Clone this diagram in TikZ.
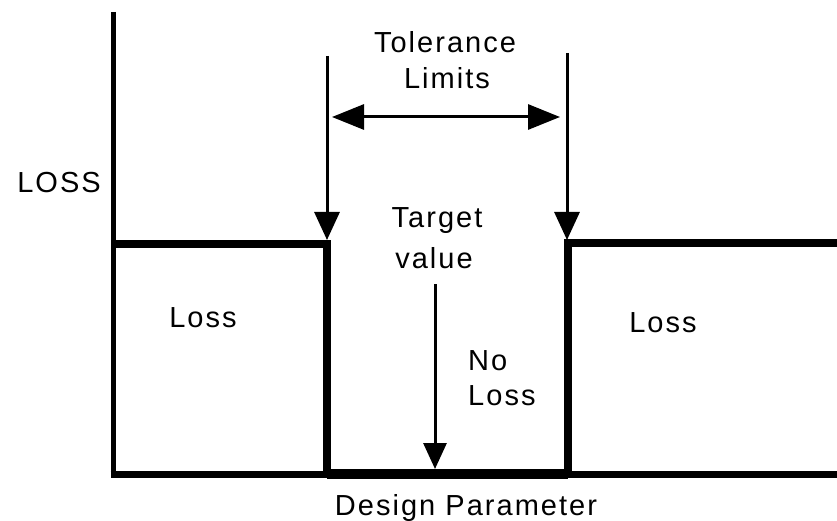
\documentclass[tikz,border=0pt]{standalone}
\usepackage{fontspec}
\newfontfamily\lblfont[LetterSpace=7]{Liberation Sans}
\usetikzlibrary{arrows.meta}
\begin{document}
\begin{tikzpicture}[x=1pt,y=-1pt,
  lbl/.style={inner sep=0pt,anchor=base,font=\lblfont\fontsize{29}{36}\selectfont},
  axisline/.style={line width=5pt},
  stepline/.style={line width=8pt,line join=miter},
  pointer/.style={line width=3pt,-{Triangle[length=28pt,width=25pt]}},
  span/.style={line width=3pt,{Triangle[length=32pt,width=25pt]}-{Triangle[length=32pt,width=25pt]}}]
  \useasboundingbox (0,0) rectangle (837,521);

  % key points of the axes and the loss step
  \coordinate (ytop) at (113,12);
  \coordinate (origin) at (113,477);
  \coordinate (xstart) at (110.5,474);
  \coordinate (xend) at (837,474);
  \coordinate (lefttop) at (113,244);
  \coordinate (lowcorner) at (327,244);
  \coordinate (lowfoot) at (327,474);
  \coordinate (upcorner) at (568,243);
  \coordinate (upfoot) at (568,474);
  \coordinate (righttop) at (837,243);

  % axes
  \draw[axisline] (ytop) -- (origin);
  \draw[line width=7pt] (xstart) -- (xend);
  \draw[line width=10pt] (lowfoot) -- (upfoot);

  % loss step outline
  \draw[stepline] (lefttop) -- (lowcorner) -- (lowfoot);
  \draw[stepline] (righttop) -- (upcorner) -- (upfoot);

  % tolerance limit pointers
  \coordinate (lowlimtail) at (327,56);
  \coordinate (lowlimtip) at (327,240);
  \coordinate (uplimtail) at (567,53);
  \coordinate (uplimtip) at (567,240);
  \draw[pointer] (lowlimtail) -- (lowlimtip);
  \draw[pointer] (uplimtail) -- (uplimtip);

  % tolerance span
  \coordinate (spanL) at (332,117);
  \coordinate (spanR) at (560,117);
  \draw[span] (spanL) -- (spanR);

  % target value pointer
  \coordinate (targettail) at (435,284);
  \coordinate (targettip) at (435,469);
  \draw[pointer,-{Triangle[length=26pt,width=23pt]}] (targettail) -- (targettip);

  % labels
  \node[lbl] (tol1) at (445,53) {Tolerance};
  \node[lbl] (tol2) at (447,89) {Limits};
  \node[lbl] (yl) at (59,193) {LOSS};
  \node[lbl] (tg1) at (437,228) {Target};
  \node[lbl] (tg2) at (434,268) {value};
  \node[lbl] (lossL) at (203,327) {Loss};
  \node[lbl] (lossR) at (663,332) {Loss};
  \node[lbl,anchor=base west] (no1) at (468,370) {No};
  \node[lbl,anchor=base west] (no2) at (468,405) {Loss};
  \node[lbl] (xl) at (466,515) {Design Parameter};
\end{tikzpicture}
\end{document}
